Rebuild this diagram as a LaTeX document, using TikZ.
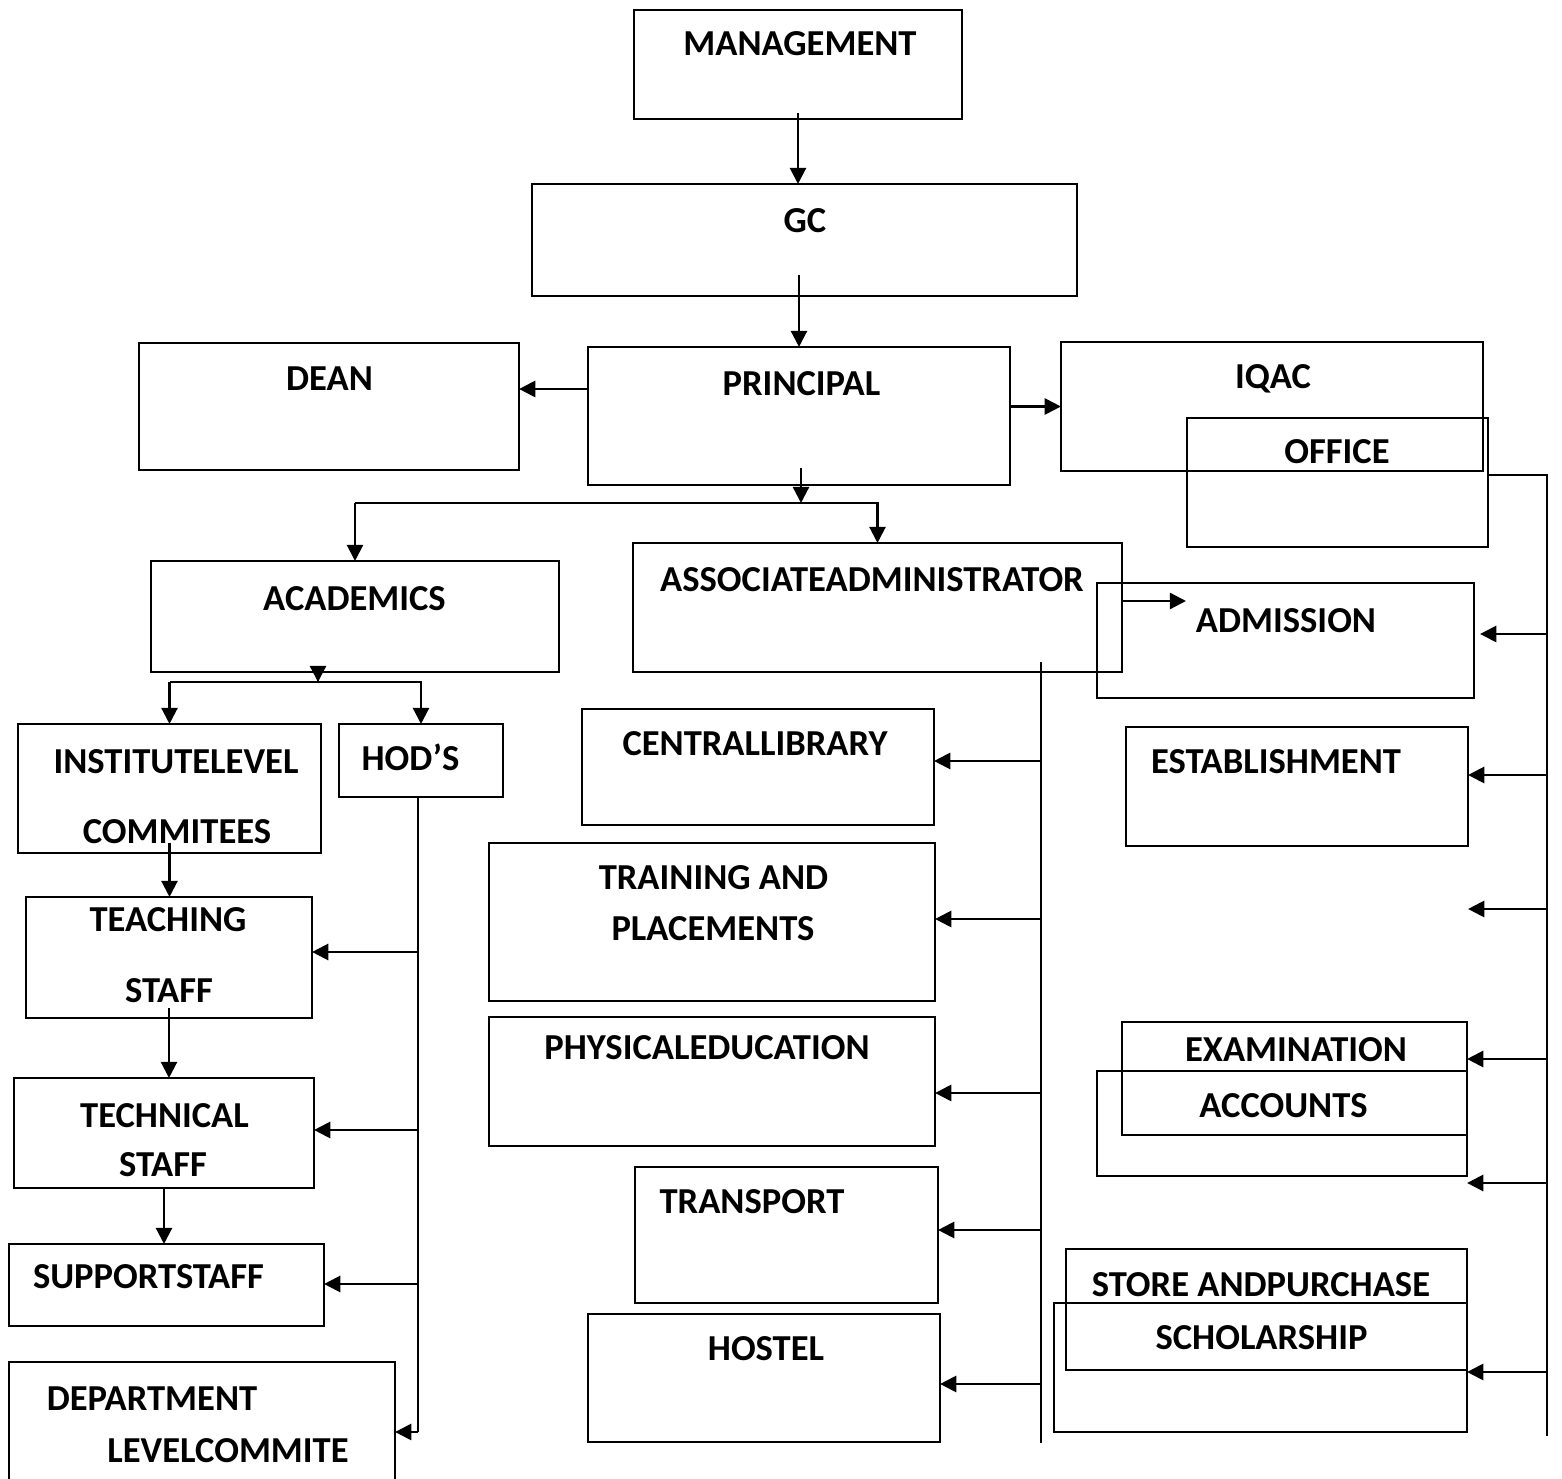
\documentclass[tikz,border=0pt]{standalone}
\usepackage{fontspec}
\setmainfont{Carlito}
\usetikzlibrary{arrows.meta}

\begin{document}
\begin{tikzpicture}[x=0.01cm,y=-0.01cm]
%style for the boxes
\tikzstyle{orgbox} = [rectangle, draw=black, line width=0.75pt, inner sep=0pt, outer sep=0pt]

%style for box texts
\tikzstyle{lbl} = [font=\fontsize{10.4}{12}\selectfont\bfseries, inner sep=0pt, anchor=base]

%style for connectors
\tikzstyle{arr} = [-{Triangle[length=4.6pt,width=4.6pt]}, line width=0.65pt]
\tikzstyle{bus} = [line width=0.65pt]

\useasboundingbox (0,0) rectangle (1562,1479);
\clip (0,0) rectangle (1562,1479);

%place boxes
\node[orgbox, minimum width=3.28cm, minimum height=1.09cm](mgmt) at (798,64.5) {};
\node[orgbox, minimum width=5.45cm, minimum height=1.12cm](gc) at (804.5,240) {};
\node[orgbox, minimum width=3.80cm, minimum height=1.27cm](dean) at (329,406.5) {};
\node[orgbox, minimum width=4.22cm, minimum height=1.38cm](prin) at (799,416) {};
\node[orgbox, minimum width=4.22cm, minimum height=1.29cm](iqac) at (1272,406.5) {};
\node[orgbox, minimum width=3.01cm, minimum height=1.29cm](office) at (1337.5,482.5) {};
\node[orgbox, minimum width=4.08cm, minimum height=1.11cm](acad) at (355,616.5) {};
\node[orgbox, minimum width=4.89cm, minimum height=1.29cm](assoc) at (877.5,607.5) {};
\node[orgbox, minimum width=3.77cm, minimum height=1.15cm](admis) at (1285.5,640.5) {};
\node[orgbox, minimum width=3.03cm, minimum height=1.29cm](inst) at (169.5,788.5) {};
\node[orgbox, minimum width=1.64cm, minimum height=0.73cm](hods) at (421,760.5) {};
\node[orgbox, minimum width=3.52cm, minimum height=1.16cm](clib) at (758,767) {};
\node[orgbox, minimum width=3.42cm, minimum height=1.19cm](estab) at (1297,786.5) {};
\node[orgbox, minimum width=4.46cm, minimum height=1.58cm](train) at (712,922) {};
\node[orgbox, minimum width=2.86cm, minimum height=1.21cm](teach) at (169,957.5) {};
\node[orgbox, minimum width=4.46cm, minimum height=1.29cm](phys) at (712,1081.5) {};
\node[orgbox, minimum width=3.45cm, minimum height=1.13cm](exam) at (1294.5,1078.5) {};
\node[orgbox, minimum width=3.70cm, minimum height=1.05cm](accts) at (1282,1123.5) {};
\node[orgbox, minimum width=3.00cm, minimum height=1.10cm](tech) at (164,1133) {};
\node[orgbox, minimum width=3.03cm, minimum height=1.36cm](trans) at (786.5,1235) {};
\node[orgbox, minimum width=3.15cm, minimum height=0.82cm](supp) at (166.5,1285) {};
\node[orgbox, minimum width=4.01cm, minimum height=1.21cm](store) at (1266.5,1309.5) {};
\node[orgbox, minimum width=4.13cm, minimum height=1.29cm](schol) at (1260.5,1367.5) {};
\node[orgbox, minimum width=3.52cm, minimum height=1.28cm](hostel) at (764,1378) {};
\node[orgbox, minimum width=3.86cm, minimum height=1.33cm](dept) at (202,1428.5) {};

%place texts
\node[lbl](mgmtT) at (800,56) {MANAGEMENT};
\node[lbl](gcT) at (805,233) {GC};
\node[lbl](deanT) at (329.5,391) {DEAN};
\node[lbl](prinT) at (801.5,396) {PRINCIPAL};
\node[lbl](iqacT) at (1273,389) {IQAC};
\node[lbl](officeT) at (1337,464) {OFFICE};
\node[lbl](acadT) at (354.5,611) {ACADEMICS};
\node[lbl](assocT) at (872,592) {ASSOCIATEADMINISTRATOR};
\node[lbl](admisT) at (1286,633) {ADMISSION};
\node[lbl](instT) at (176,774) {INSTITUTELEVEL};
\node[lbl](instTb) at (177,844) {COMMITEES};
\node[lbl](hodsT) at (410.5,771) {HOD’S};
\node[lbl](clibT) at (755,756) {CENTRALLIBRARY};
\node[lbl](estabT) at (1276,774) {ESTABLISHMENT};
\node[lbl](trainT) at (713.5,890) {TRAINING AND};
\node[lbl](trainTb) at (713,941) {PLACEMENTS};
\node[lbl](teachT) at (168,932) {TEACHING};
\node[lbl](teachTb) at (169,1003) {STAFF};
\node[lbl](physT) at (707,1060) {PHYSICALEDUCATION};
\node[lbl](examT) at (1296,1062) {EXAMINATION};
\node[lbl](acctsT) at (1283.5,1117) {ACCOUNTS};
\node[lbl](techT) at (164.5,1127) {TECHNICAL};
\node[lbl](techTb) at (163,1177) {STAFF};
\node[lbl](transT) at (752,1214) {TRANSPORT};
\node[lbl](suppT) at (148.5,1289) {SUPPORTSTAFF};
\node[lbl](storeT) at (1261,1297) {STORE ANDPURCHASE};
\node[lbl](scholT) at (1261.5,1350) {SCHOLARSHIP};
\node[lbl](hostelT) at (766,1360) {HOSTEL};
\node[lbl](deptT) at (152,1410) {DEPARTMENT};
\node[lbl](deptTb) at (228,1462) {LEVELCOMMITE};

%junction points
\coordinate (pdean) at (588,389);
\coordinate (psplit) at (801,503);
\coordinate (asplit) at (318,682);
\coordinate (admIn) at (1186,601);
\coordinate (hodEnd) at (418,1432);
\coordinate (hTeach) at (418,952);
\coordinate (hTech) at (418,1130);
\coordinate (hSupp) at (418,1284);
\coordinate (aEnd) at (1041,1443);
\coordinate (aClib) at (1041,761);
\coordinate (aTrain) at (1041,919);
\coordinate (aPhys) at (1041,1093);
\coordinate (aTrans) at (1041,1230);
\coordinate (aHostel) at (1041,1384);
\coordinate (oCorner) at (1547,475);
\coordinate (oEnd) at (1547,1436);
\coordinate (oAdmis) at (1547,634);
\coordinate (oEstab) at (1547,775);
\coordinate (oGap) at (1547,909);
\coordinate (oExam) at (1547,1059);
\coordinate (oAccts) at (1547,1183);
\coordinate (oSchol) at (1547,1372);

%connect top boxes
\draw[arr, shorten <=-0.06cm] (mgmt.south) -- (mgmt.south |- gc.north);
\draw[arr, shorten <=-0.21cm] (prin.north |- gc.south) -- (prin.north);
\draw[arr] (pdean) -- (pdean -| dean.east);
\draw[arr] (iqac.west -| prin.east) -- (iqac.west);
\draw[arr, shorten <=-0.17cm] (prin.south -| psplit) -- (psplit);
\draw[arr] (acad.north |- psplit) -- (acad.north);
\draw[arr] (acad.north |- psplit) -- (assoc.north |- psplit) -- (assoc.north);

%academics side
\draw[arr, shorten <=-0.1cm] (acad.south -| asplit) -- (asplit);
\draw[arr] (inst.north |- asplit) -- (inst.north);
\draw[arr] (inst.north |- asplit) -- (hods.north |- asplit) -- (hods.north);
\draw[arr, shorten <=-0.1cm] (inst.south) -- (inst.south |- teach.north);
\draw[arr, shorten <=-0.1cm] (teach.south) -- (teach.south |- tech.north);
\draw[arr] (tech.south) -- (tech.south |- supp.north);
\draw[bus] (hods.south -| hodEnd) -- (hodEnd);
\draw[arr] (hTeach) -- (hTeach -| teach.east);
\draw[arr] (hTech) -- (hTech -| tech.east);
\draw[arr] (hSupp) -- (hSupp -| supp.east);
\draw[arr] (hodEnd) -- (hodEnd -| dept.east);

%administrator side
\draw[arr] (assoc.east |- admIn) -- (admIn);
\draw[bus, shorten <=-0.1cm] (assoc.south -| aEnd) -- (aEnd);
\draw[arr] (aClib) -- (aClib -| clib.east);
\draw[arr] (aTrain) -- (aTrain -| train.east);
\draw[arr] (aPhys) -- (aPhys -| phys.east);
\draw[arr] (aTrans) -- (aTrans -| trans.east);
\draw[arr] (aHostel) -- (aHostel -| hostel.east);

%office side
\draw[bus] (office.east |- oCorner) -- (oCorner) -- (oEnd);
\draw[arr, shorten >=0.06cm] (oAdmis) -- (oAdmis -| admis.east);
\draw[arr] (oEstab) -- (oEstab -| estab.east);
\draw[arr] (oGap) -- (oGap -| estab.east);
\draw[arr] (oExam) -- (oExam -| exam.east);
\draw[arr] (oAccts) -- (oAccts -| accts.east);
\draw[arr] (oSchol) -- (oSchol -| schol.east);
\end{tikzpicture}
\end{document}
